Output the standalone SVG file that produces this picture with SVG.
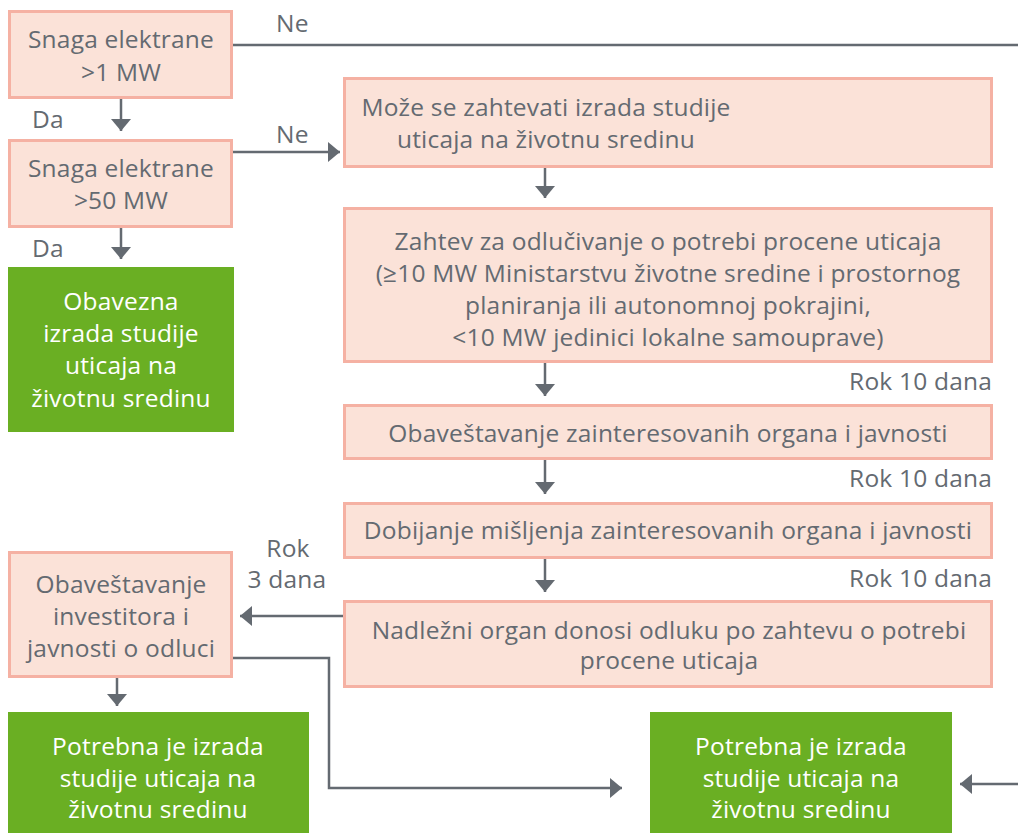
<svg xmlns="http://www.w3.org/2000/svg" width="1018" height="833" viewBox="0 0 1018 833">
<style>
.box{fill:#fbe2d8;stroke:#f5b1a3;stroke-width:3}
.green{fill:#6aaf23}
.t{font-family:"Open Sans","Liberation Sans",sans-serif;font-size:24.5px;letter-spacing:0.2px;fill:#646a71;text-anchor:middle}
.w{fill:#ffffff}
.l{font-family:"Open Sans","Liberation Sans",sans-serif;font-size:24.5px;letter-spacing:0.2px;fill:#646a71}
.c{fill:none;stroke:#646a71;stroke-width:2.5}
</style>
<defs>
<marker id="ah" viewBox="0 0 12 20" refX="12" refY="10" markerWidth="12" markerHeight="20" markerUnits="userSpaceOnUse" orient="auto">
<path d="M0,0 L12,10 L0,20 z" fill="#646a71"/>
</marker>
</defs>
<g id="connectors">
<line class="c" x1="233" y1="45" x2="1018" y2="45"/>
<line class="c" x1="121" y1="99" x2="121" y2="131" marker-end="url(#ah)"/>
<line class="c" x1="233" y1="152" x2="340" y2="152" marker-end="url(#ah)"/>
<line class="c" x1="121" y1="227" x2="121" y2="259" marker-end="url(#ah)"/>
<line class="c" x1="545" y1="167" x2="545" y2="198" marker-end="url(#ah)"/>
<line class="c" x1="545" y1="362" x2="545" y2="396" marker-end="url(#ah)"/>
<line class="c" x1="545" y1="459" x2="545" y2="494" marker-end="url(#ah)"/>
<line class="c" x1="545" y1="558" x2="545" y2="592" marker-end="url(#ah)"/>
<line class="c" x1="343" y1="616" x2="240" y2="616" marker-end="url(#ah)"/>
<line class="c" x1="117" y1="677" x2="117" y2="706" marker-end="url(#ah)"/>
<polyline class="c" points="233,658 329,658 329,788 622,788" marker-end="url(#ah)"/>
<line class="c" x1="1018" y1="784" x2="960" y2="784" marker-end="url(#ah)"/>
<text class="l" x="276" y="32">Ne</text>
<text class="l" x="276" y="143">Ne</text>
<text class="l" x="32" y="128">Da</text>
<text class="l" x="32" y="257">Da</text>
<text class="l" x="992" y="390" text-anchor="end">Rok 10 dana</text>
<text class="l" x="992" y="487" text-anchor="end">Rok 10 dana</text>
<text class="l" x="992" y="587" text-anchor="end">Rok 10 dana</text>
<text class="t" x="288" y="557">Rok</text>
<text class="t" x="287" y="588">3 dana</text>
</g>
<g id="n1">
<rect class="box" x="9.5" y="11.5" width="222" height="86"/>
<text class="t" x="121" y="48">Snaga elektrane</text>
<text class="t" x="121" y="81">&gt;1 MW</text>
</g>
<g id="n2">
<rect class="box" x="9.5" y="140.5" width="222" height="86"/>
<text class="t" x="121" y="177">Snaga elektrane</text>
<text class="t" x="121" y="209">&gt;50 MW</text>
</g>
<g id="n3">
<rect class="green" x="8" y="267" width="226" height="165"/>
<text class="t w" x="121" y="310">Obavezna</text>
<text class="t w" x="121" y="342">izrada studije</text>
<text class="t w" x="121" y="374">uticaja na</text>
<text class="t w" x="121" y="407">životnu sredinu</text>
</g>
<g id="n4">
<rect class="box" x="344.5" y="78.5" width="647" height="88"/>
<text class="t" x="546" y="116">Može se zahtevati izrada studije</text>
<text class="t" x="546" y="148">uticaja na životnu sredinu</text>
</g>
<g id="n5">
<rect class="box" x="344.5" y="208.5" width="647" height="153"/>
<text class="t" x="668" y="250">Zahtev za odlučivanje o potrebi procene uticaja</text>
<text class="t" x="668" y="282">(≥10 MW Ministarstvu životne sredine i prostornog</text>
<text class="t" x="668" y="314">planiranja ili autonomnoj pokrajini,</text>
<text class="t" x="668" y="346">&lt;10 MW jedinici lokalne samouprave)</text>
</g>
<g id="n6">
<rect class="box" x="344.5" y="405.5" width="647" height="53"/>
<text class="t" x="668" y="442">Obaveštavanje zainteresovanih organa i javnosti</text>
</g>
<g id="n7">
<rect class="box" x="344.5" y="503.5" width="647" height="54"/>
<text class="t" x="668" y="539">Dobijanje mišljenja zainteresovanih organa i javnosti</text>
</g>
<g id="n8">
<rect class="box" x="344.5" y="601.5" width="647" height="85"/>
<text class="t" x="669" y="639">Nadležni organ donosi odluku po zahtevu o potrebi</text>
<text class="t" x="669" y="669">procene uticaja</text>
</g>
<g id="n9">
<rect class="box" x="9.5" y="552.5" width="222" height="124"/>
<text class="t" x="121" y="593">Obaveštavanje</text>
<text class="t" x="121" y="625">investitora i</text>
<text class="t" x="121" y="657">javnosti o odluci</text>
</g>
<g id="n10">
<rect class="green" x="8" y="712" width="301" height="121"/>
<text class="t w" x="158" y="755">Potrebna je izrada</text>
<text class="t w" x="158" y="787">studije uticaja na</text>
<text class="t w" x="158" y="818">životnu sredinu</text>
</g>
<g id="n11">
<rect class="green" x="650" y="712" width="302" height="121"/>
<text class="t w" x="801" y="755">Potrebna je izrada</text>
<text class="t w" x="801" y="787">studije uticaja na</text>
<text class="t w" x="801" y="818">životnu sredinu</text>
</g>
</svg>
